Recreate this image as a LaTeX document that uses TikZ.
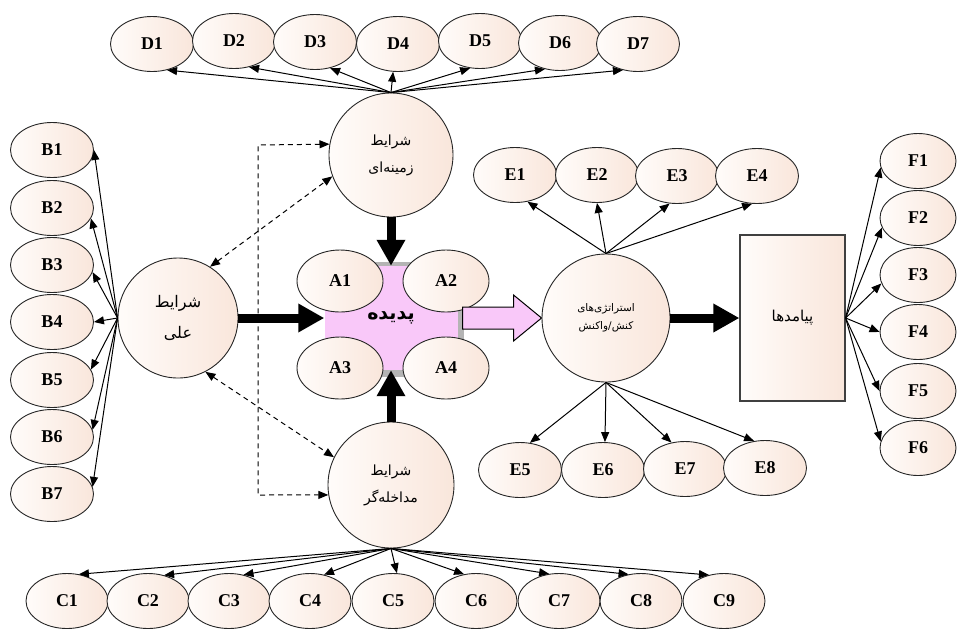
\documentclass[tikz,border=0pt]{standalone}
\usepackage{fontspec}
\setmainfont{Liberation Serif}
\newfontfamily\fa[Script=Arabic]{DejaVu Sans}
\TeXXeTstate=1
\usetikzlibrary{shapes.geometric,arrows.meta,calc}
\definecolor{peachL}{RGB}{255,252,250}
\definecolor{peachR}{RGB}{249,230,219}
\definecolor{pinkbox}{RGB}{249,200,249}
\definecolor{shadowgray}{RGB}{180,180,180}
\begin{document}
\begin{tikzpicture}[x=1pt,y=-1pt,
  bub/.style={ellipse, draw=black!85, line width=0.9pt, left color=peachL, right color=peachR,
    minimum width=83pt, minimum height=55pt, inner sep=0pt,
    font=\bfseries\fontsize{18}{18}\selectfont},
  circ/.style={circle, draw=black!85, line width=0.9pt, left color=peachL, right color=peachR,
    inner sep=0pt, align=center, font=\fa\fontsize{14}{17}\selectfont},
  arr/.style={line width=1pt, -{Triangle[length=10pt,width=8pt]}},
  bigarr/.style={line width=9pt, -{Triangle[length=26pt,width=27pt]}},
  dsh/.style={line width=1pt, dash pattern=on 5pt off 4pt, {Triangle[length=10pt,width=8pt]}-{Triangle[length=10pt,width=8pt]}}
]
\useasboundingbox (0,0) rectangle (958,630);
\fill[white] (0,0) rectangle (958,630);

% ---------- D row ----------
\node[bub] (D1) at (152,44) {D1};
\node[bub] (D2) at (234,41) {D2};
\node[bub] (D3) at (315,42) {D3};
\node[bub] (D4) at (398,44) {D4};
\node[bub] (D5) at (480,41) {D5};
\node[bub] (D6) at (560,43) {D6};
\node[bub] (D7) at (638,44) {D7};

% ---------- B column ----------
\foreach \i/\y in {1/150,2/208,3/265,4/322,5/380,6/437,7/494}
  \node[bub] (B\i) at (52,\y) {B\i};

% ---------- F column ----------
\foreach \i/\y in {1/161,2/218,3/275,4/332,5/391,6/448}
  \node[bub, minimum width=76pt] (F\i) at (918,\y) {F\i};

% ---------- E rows ----------
\node[bub] (E1) at (515,175) {E1};
\node[bub] (E2) at (597,175) {E2};
\node[bub] (E3) at (677,176) {E3};
\node[bub] (E4) at (757,176) {E4};
\node[bub] (E5) at (520,470) {E5};
\node[bub] (E6) at (603,470) {E6};
\node[bub] (E7) at (685,469) {E7};
\node[bub] (E8) at (765,468) {E8};

% ---------- C row ----------
\foreach \i/\x in {1/67,2/148,3/229,4/310,5/393,6/476,7/559,8/641,9/724}
  \node[bub, minimum width=82pt] (C\i) at (\x,601) {C\i};

% ---------- circles ----------
\node[circ, minimum size=124pt] (Dc) at (391,155)
  {\beginR شرایط\endR\\[10pt]\beginR زمینه^^^^200cای\endR};
\node[circ, minimum size=120pt, font=\fa\fontsize{16}{19}\selectfont] (Ali) at (178,318)
  {\beginR شرایط\endR\\[12pt]\beginR علی\endR};
\node[circ, minimum size=126pt] (Cc) at (391,485)
  {\beginR شرایط\endR\\[10pt]\beginR مداخله^^^^200cگر\endR};
\node[circ, minimum size=128pt, font=\fa\fontsize{10.5}{13}\selectfont] (Sc) at (606,318)
  {\beginR استراتژی^^^^200cهای\endR\\[5pt]\beginR کنش/واکنش\endR};

% ---------- central box ----------
\fill[shadowgray] (345,262) rectangle (464,377);
\node[fill=pinkbox, minimum width=133pt, minimum height=104pt, inner sep=0pt,
  font=\fa\bfseries\fontsize{19}{22}\selectfont] (box) at (391,318) {\beginR پدیده\endR};
\node[bub, minimum width=86pt, minimum height=62pt] (A1) at (340,281) {A1};
\node[bub, minimum width=86pt, minimum height=62pt] (A2) at (446,281) {A2};
\node[bub, minimum width=86pt, minimum height=62pt] (A3) at (340,368) {A3};
\node[bub, minimum width=86pt, minimum height=62pt] (A4) at (446,368) {A4};

% ---------- result box ----------
\node[draw=black!75, line width=1.2pt, left color=peachL, right color=peachR,
  minimum width=105pt, minimum height=166pt, inner sep=0pt,
  font=\fa\fontsize{15}{18}\selectfont] (res) at (792.5,318) {\beginR پیامدها\endR};

% ---------- thin arrows ----------
\foreach \n/\a in {1/-60,2/-60,3/-60,4/-100,5/-110,6/-120,7/-120}
  \draw[arr] (Dc.north) -- (D\n.\a);
\foreach \n/\a in {1/0,2/-15,3/-10,4/0,5/15,6/10,7/10}
  \draw[arr] (Ali.west) -- (B\n.\a);
\foreach \n/\a in {1/-65,2/-90,3/-105,4/-100}
  \draw[arr] (Sc.north) -- (E\n.\a);
\foreach \n/\a in {5/70,6/86,7/117,8/112}
  \draw[arr] (Sc.south) -- (E\n.\a);
\foreach \n/\a in {1/66,2/58,3/61,4/62,5/82,6/114,7/110,8/115,9/120}
  \draw[arr] (Cc.south) -- (C\n.\a);
\foreach \n/\a in {1/190,2/195,3/193,4/180,5/180,6/170}
  \draw[arr] (res.east) -- (F\n.\a);

% ---------- dashed connectors ----------
\coordinate (k1) at (258,145);
\coordinate (k2) at (258,495);
\draw[dsh] (Dc.170) -- (k1) -- (k2) -- (Cc.189);
\draw[dsh] (Ali.58) -- (Dc.200);
\draw[dsh] (Ali.-63) -- (Cc.154);

% ---------- thick arrows ----------
\draw[bigarr] (Ali.east) -- (box.west);
\draw[bigarr] (Dc.south) -- (box.north);
\draw[bigarr] (Cc.north) -- (box.south);
\draw[bigarr] (Sc.east) -- (res.west);

% ---------- pink block arrow ----------
\draw[fill=pinkbox, line width=1pt, line join=miter]
  ($(box.east)+(5,-11)$) -- ($(Sc.west)+(-28,-11)$) -- ($(Sc.west)+(-28,-23)$) --
  (Sc.west) -- ($(Sc.west)+(-28,23)$) -- ($(Sc.west)+(-28,11)$) --
  ($(box.east)+(5,11)$) -- cycle;
\end{tikzpicture}
\end{document}
